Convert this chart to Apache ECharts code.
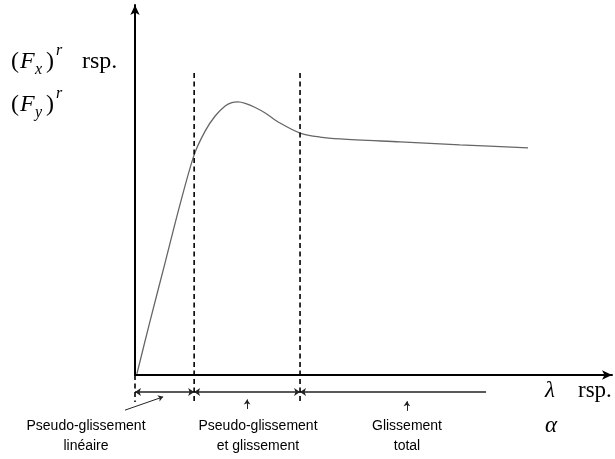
<!DOCTYPE html>
<html>
<head>
<meta charset="utf-8">
<script src="https://cdn.jsdelivr.net/npm/echarts@6/dist/echarts.min.js"></script>
<style>
html, body { margin: 0; padding: 0; background: #fff; }
#chart { width: 615px; height: 459px; }
</style>
</head>
<body>
<div id="chart"></div>
<script>
// courbe effort / glissement (unités arbitraires)
var curveX = [0.4, 3.1, 6.3, 9.4, 12.4, 14.7, 16.8, 18.9, 20.3, 21.6, 23.1, 25.2, 27.3, 30.4, 34.6, 38.8, 43.0, 55.6, 68.1, 82.4];
var curveY = [0.3, 14.3, 30.3, 45.9, 59.5, 65.9, 70.0, 72.7, 73.6, 73.8, 73.4, 72.3, 70.8, 68.1, 65.4, 64.3, 63.8, 63.0, 62.2, 61.4];

// limites des zones (pointillés)
var boundaries = [12.4, 34.6];
var dashTop = 81.6;
var dashBottom = -7.3;

// flèches des zones
var zoneArrowY = -4.6;
var zoneStarts = [0, 12.4, 34.6];
var zoneEnds = [12.4, 34.6, 73.6];

// légendes des zones
var zoneLabels = [
	['Pseudo-glissement', 'linéaire'],
	['Pseudo-glissement', 'et glissement'],
	['Glissement', 'total']
];
var zoneLabelX = [86, 258, 407];
// petites flèches vers les légendes [x0, y0, x1, y1]
var pointerArrows = [
	[-2.1, -9.5, 5.9, -5.9],
	[23.5, -9.2, 23.5, -6.6],
	[57.0, -9.7, 57.0, -7.1]
];

var myChart = echarts.init(document.getElementById('chart'));

var curveData = curveX.map(function (x, i) {
	return [x, curveY[i]];
});

var series = [
	{
		type: 'line',
		data: curveData,
		smooth: 0.3,
		symbol: 'none',
		lineStyle: { color: '#666', width: 1.3 }
	}
];

// pointillés verticaux
boundaries.concat([0]).forEach(function (b, i) {
	series.push({
		type: 'line',
		data: i < boundaries.length ? [[b, dashTop], [b, dashBottom]] : [[b, 0], [b, dashBottom]],
		symbol: 'none',
		clip: false,
		silent: true,
		lineStyle: { color: '#000', width: 1.6, type: [5, 3.5] }
	});
});

// flèches doubles des zones
series.push({
	type: 'lines',
	coordinateSystem: 'cartesian2d',
	clip: false,
	silent: true,
	symbolSize: 6,
	lineStyle: { color: '#222', width: 1.5, opacity: 1 },
	data: zoneStarts.map(function (s, i) {
		return {
			coords: [[s, zoneArrowY], [zoneEnds[i], zoneArrowY]],
			symbol: i < 2 ? ['arrow', 'arrow'] : ['arrow', 'none']
		};
	})
});

// petites flèches vers les textes
series.push({
	type: 'lines',
	coordinateSystem: 'cartesian2d',
	clip: false,
	silent: true,
	symbol: ['none', 'arrow'],
	symbolSize: 5,
	lineStyle: { color: '#222', width: 1, opacity: 1 },
	data: pointerArrows.map(function (a) {
		return { coords: [[a[0], a[1]], [a[2], a[3]]] };
	})
});

var serif = 'Liberation Serif';
var sans = 'Liberation Sans';

function mathText(x, y, text, size, italic) {
	return {
		type: 'text',
		x: x,
		y: y,
		style: {
			text: text,
			fill: '#000',
			font: (italic ? 'italic ' : '') + size + 'px "' + serif + '"',
			verticalAlign: 'middle'
		}
	};
}

var graphics = [];
// (F_x)^r rsp. / (F_y)^r
[['x', 62], ['y', 105]].forEach(function (row) {
	var cy = row[1];
	graphics.push(mathText(11, cy, '(', 24, false));
	graphics.push(mathText(20, cy, 'F', 24, true));
	graphics.push(mathText(35, cy + 8, row[0], 16, true));
	graphics.push(mathText(46, cy, ')', 24, false));
	graphics.push(mathText(56, cy - 11, 'r', 16, true));
});
graphics.push(mathText(82, 62, 'rsp.', 24, false));
graphics.push(mathText(545, 391, 'λ', 23, true));
graphics.push(mathText(578, 391, 'rsp.', 23, false));
graphics.push(mathText(545, 426, 'α', 23, true));

zoneLabels.forEach(function (lines, i) {
	graphics.push({
		type: 'text',
		x: zoneLabelX[i],
		y: 436,
		style: {
			text: lines.join('\n'),
			fill: '#000',
			font: '14px "' + sans + '"',
			align: 'center',
			verticalAlign: 'middle',
			lineHeight: 20
		}
	});
});

myChart.setOption({
	animation: false,
	grid: {
		left: 135,
		right: 3,
		top: 5,
		bottom: 84
	},
	xAxis: {
		type: 'value',
		min: 0,
		max: 100,
		axisLine: {
			show: true,
			symbol: ['none', 'arrow'],
			symbolSize: [7, 10],
			lineStyle: { color: '#000', width: 2 }
		},
		axisTick: { show: false },
		axisLabel: { show: false },
		splitLine: { show: false }
	},
	yAxis: {
		type: 'value',
		min: 0,
		max: 100,
		axisLine: {
			show: true,
			symbol: ['none', 'arrow'],
			symbolSize: [7, 10],
			lineStyle: { color: '#000', width: 2 }
		},
		axisTick: { show: false },
		axisLabel: { show: false },
		splitLine: { show: false }
	},
	graphic: graphics,
	series: series
});
</script>
</body>
</html>
